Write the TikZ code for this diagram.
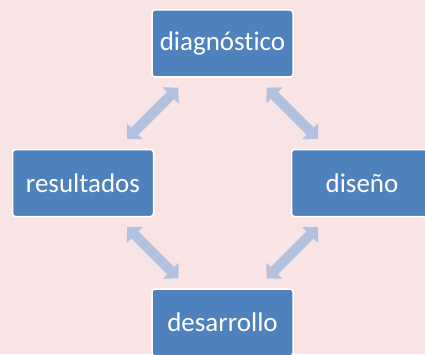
\documentclass[tikz,border=0pt]{standalone}
\usepackage{fontspec}
\setmainfont{Carlito}[Ligatures=NoCommon]
\usetikzlibrary{positioning,arrows.meta}
\definecolor{boxblue}{RGB}{79,129,189}
\definecolor{linkblue}{RGB}{178,194,222}
\definecolor{paper}{RGB}{248,228,229}

\begin{document}
\begin{tikzpicture}[on grid,node distance=139.5pt and 139.5pt,
  link/.style={<->,>={Triangle[width=22pt,length=11pt]},line width=10pt,draw=linkblue,shorten >=15pt,shorten <=15pt}]
\tikzstyle{every node}=[draw=white,line width=1.5pt,fill=boxblue,text=white,rounded corners=3pt,minimum width=141pt,minimum height=67pt,outer sep=0pt,font=\fontsize{27}{32}\selectfont]
\clip (0,0) rectangle (425pt,354pt);
\fill[paper] (0,0) rectangle (425pt,354pt);
\node (diag) at (222.5pt,310.5pt) {diagnóstico};
\node[below left=of diag] (result) {resultados};
\node[below right=of diag] (diseno) {diseño};
\node[below right=of result] (desarr) {desarrollo};
\draw[link] (diag) -- (result);
\draw[link] (diag) -- (diseno);
\draw[link] (result) -- (desarr);
\draw[link] (diseno) -- (desarr);
\end{tikzpicture}
\end{document}
